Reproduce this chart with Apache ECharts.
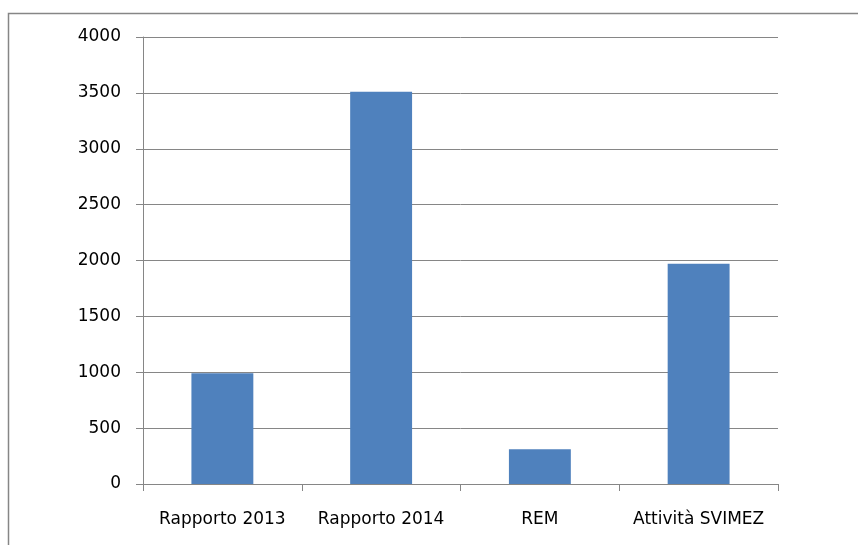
<!DOCTYPE html>
<html>
<head>
<meta charset="utf-8">
<script src="https://cdn.jsdelivr.net/npm/echarts@6/dist/echarts.min.js"></script>
<style>html,body{margin:0;padding:0;background:#fff}#c{width:858px;height:545px}</style>
</head>
<body>
<div id="c"></div>
<script>
const categories = ['Rapporto 2013', 'Rapporto 2014', 'REM', 'Attività SVIMEZ'];
const values = [990, 3510, 310, 1970];
const yTicks = [0, 500, 1000, 1500, 2000, 2500, 3000, 3500, 4000];

const chart = echarts.init(document.getElementById('c'), null, {renderer: 'canvas'});
const font = 'DejaVu Sans';
chart.setOption({
  animation: false,
  backgroundColor: '#ffffff',
  graphic: [{
    type: 'rect', silent: true,
    shape: {x: 8.5, y: 13.5, width: 1000, height: 1000},
    style: {fill: 'none', stroke: '#868686', lineWidth: 1.5}
  }],
  grid: {left: 143, right: 80, top: 37, bottom: 61, containLabel: false},
  xAxis: {
    type: 'category',
    data: categories,
    axisLine: {lineStyle: {color: '#868686', width: 1}},
    axisTick: {show: true, length: 7, alignWithLabel: false, lineStyle: {color: '#868686'}},
    axisLabel: {color: '#000', fontFamily: font, fontSize: 17, margin: 27, interval: 0}
  },
  yAxis: {
    type: 'value',
    min: yTicks[0], max: yTicks[yTicks.length - 1], interval: 500,
    axisLine: {show: true, lineStyle: {color: '#868686', width: 1}},
    axisTick: {show: true, length: 7, lineStyle: {color: '#868686'}},
    splitLine: {show: true, lineStyle: {color: '#868686', width: 1}},
    axisLabel: {color: '#000', fontFamily: font, fontSize: 17, margin: 22, formatter: v => String(v)}
  },
  series: [{
    type: 'bar',
    data: values,
    barWidth: '39%',
    itemStyle: {color: '#4F81BD'}
  }]
});
</script>
</body>
</html>
